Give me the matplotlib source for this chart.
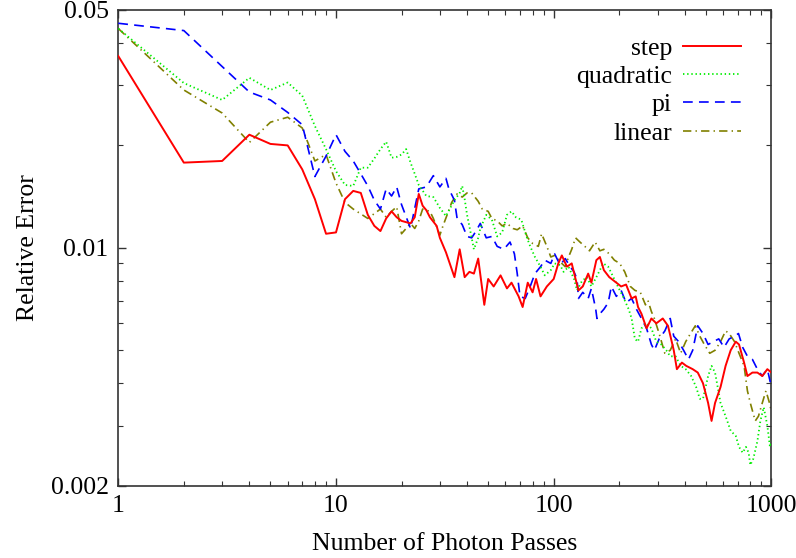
import matplotlib
matplotlib.use("Agg")
import matplotlib.pyplot as plt
import matplotlib.ticker as ticker

plt.rcParams["font.family"] = ["Liberation Serif", "DejaVu Serif"]
plt.rcParams["lines.scale_dashes"] = False

# Relative error vs number of photon passes
step_x = [1, 2, 3, 4, 5, 6, 7, 8, 9, 10,
          11, 12, 13, 14, 15, 16, 17, 18, 19, 20,
          22, 23, 24, 25, 26, 27, 29, 30, 32, 35,
          37, 39, 41, 43, 45, 48, 50, 53, 57, 61,
          64, 69, 72, 76, 80, 83, 87, 93, 100, 105,
          109, 115, 121, 126, 130, 136, 144, 149, 157, 163,
          170, 180, 194, 204, 215, 228, 238, 244, 253, 267,
          281, 296, 317, 335, 356, 368, 388, 406, 435, 459,
          485, 512, 531, 551, 584, 616, 650, 686, 710, 749,
          776, 818, 862, 908, 958, 1000]
step_y = [.0366, .0178, .0180, .0215, .0202, .0200, .0170, .0139, .0110, .0111,
          .0139, .0147, .0145, .0125, .0116, .0112, .0122, .0128, .0123, .0120,
          .0118, .0123, .0144, .0133, .0129, .0123, .0116, .0107, .0097, .0082,
          .0099, .0082, .0085, .0084, .0093, .0068, .0081, .0077, .0083, .0076,
          .0079, .0072, .0067, .0079, .0074, .0081, .0072, .0077, .0081, .0090,
          .0095, .0088, .0090, .0081, .0075, .0077, .0084, .0079, .0092, .0094,
          .0086, .0082, .0079, .0077, .0078, .0071, .0072, .0067, .0064, .0058,
          .0062, .0060, .0062, .0059, .0050, .0044, .0046, .0045, .0044, .0043,
          .0040, .0035, .0031, .0035, .0039, .0045, .0050, .0053, .0052, .0046,
          .0042, .0043, .0043, .0042, .0044, .0043]

quad_x = [1, 2, 3, 4, 5, 6, 7, 8, 9, 10,
          11, 12, 13, 14, 15, 16, 17, 18, 19, 20,
          21, 22, 23, 24, 26, 28, 30, 32, 35, 37,
          38, 39, 40, 42, 43, 45, 46, 49, 52, 55,
          58, 61, 64, 67, 71, 75, 78, 82, 87, 91,
          97, 101, 107, 111, 117, 124, 128, 135, 142, 149,
          157, 163, 169, 178, 188, 197, 208, 221, 228, 236,
          244, 253, 267, 281, 296, 312, 329, 343, 363, 383,
          404, 428, 451, 469, 485, 512, 531, 551, 584, 616,
          650, 686, 710, 738, 764, 786, 800, 826, 862, 890,
          922, 958, 985, 1000]
quad_y = [.0441, .0305, .0272, .0316, .0291, .0306, .0280, .0228, .0195, .0168,
          .0153, .0152, .0172, .0172, .0183, .0195, .0205, .0184, .0185, .0188,
          .0195, .0178, .0165, .0153, .0142, .0141, .0131, .0124, .0138, .0145,
          .0152, .0139, .0125, .0107, .0099, .0107, .0114, .0125, .0121, .0108,
          .0111, .0125, .0128, .0123, .0121, .0108, .0101, .0094, .0088, .0083,
          .0086, .0090, .0089, .0085, .0088, .0081, .0075, .0080, .0082, .0077,
          .0082, .0086, .0090, .0088, .0082, .0077, .0072, .0066, .0062, .0054,
          .0053, .0058, .0060, .0058, .0053, .0052, .0050, .0048, .0048, .0045,
          .0044, .0042, .0039, .0036, .0036, .0042, .0045, .0043, .0035, .0032,
          .0029, .0028, .0026, .0025, .0026, .0025, .0023, .0024, .0027, .0031,
          .0034, .0030, .0026, .0027]

pi_x = [1, 2, 3, 4, 5, 6, 7, 8, 9, 10,
        11, 12, 13, 14, 15, 16, 17, 18, 19, 20,
        22, 24, 26, 28, 30, 32, 33, 35, 36, 38,
        40, 42, 44, 46, 49, 52, 55, 59, 63, 66,
        68, 70, 74, 78, 82, 87, 91, 97, 101, 107,
        113, 119, 124, 128, 130, 136, 144, 149, 156, 158,
        163, 170, 178, 184, 194, 204, 215, 228, 240, 253,
        267, 281, 290, 305, 324, 343, 356, 375, 395, 416,
        435, 459, 485, 512, 541, 573, 606, 640, 677, 706,
        738, 776, 818, 862, 908, 958, 1000]
pi_y = [.0457, .0435, .0341, .0287, .0272, .0250, .0230, .0162, .0186, .0215,
        .0192, .0180, .0165, .0152, .0138, .0130, .0149, .0142, .0151, .0134,
        .0114, .0149, .0151, .0163, .0151, .0160, .0149, .0138, .0122, .0117,
        .0108, .0107, .0112, .0118, .0107, .0108, .0101, .0099, .0104, .0096,
        .0084, .0072, .0071, .0077, .0084, .0088, .0092, .0090, .0096, .0089,
        .0093, .0088, .0085, .0081, .0071, .0074, .0071, .0076, .0066, .0062,
        .0064, .0066, .0069, .0077, .0072, .0075, .0069, .0071, .0066, .0062,
        .0058, .0052, .0050, .0054, .0057, .0062, .0055, .0053, .0050, .0047,
        .0050, .0059, .0056, .0052, .0053, .0054, .0051, .0054, .0055, .0056,
        .0051, .0048, .0047, .0044, .0042, .0044, .0039]

lin_x = [1, 2, 3, 4, 5, 6, 7, 8, 9, 10,
         11, 12, 14, 16, 17, 18, 19, 20, 22, 23,
         24, 25, 27, 28, 30, 31, 33, 34, 36, 38,
         40, 42, 45, 47, 50, 52, 55, 58, 61, 65,
         68, 72, 76, 80, 85, 88, 93, 97, 101, 107,
         113, 117, 121, 126, 132, 139, 146, 155, 163, 170,
         180, 190, 201, 212, 225, 236, 250, 264, 271, 281,
         290, 305, 324, 343, 363, 383, 404, 425, 447, 469,
         492, 521, 551, 584, 616, 640, 677, 710, 749, 776,
         800, 843, 872, 908, 944, 980, 1000]
lin_y = [.0441, .0291, .0249, .0204, .0234, .0242, .0225, .0180, .0188, .0155,
         .0136, .0130, .0122, .0130, .0123, .0128, .0132, .0110, .0118, .0114,
         .0120, .0130, .0128, .0122, .0109, .0116, .0129, .0136, .0144, .0141,
         .0145, .0145, .0137, .0130, .0128, .0122, .0120, .0116, .0118, .0114,
         .0113, .0116, .0107, .0103, .0101, .0110, .0101, .0094, .0095, .0091,
         .0088, .0094, .0099, .0107, .0104, .0101, .0098, .0104, .0098, .0099,
         .0096, .0092, .0090, .0085, .0077, .0075, .0074, .0068, .0070, .0065,
         .0062, .0056, .0049, .0050, .0054, .0049, .0053, .0056, .0059, .0055,
         .0052, .0049, .0050, .0053, .0057, .0056, .0053, .0049, .0045, .0038,
         .0035, .0031, .0032, .0035, .0038, .0035, .0033]

x_ticks = [1, 10, 100, 1000]
x_tick_labels = ["1", "10", "100", "1000"]
y_ticks = [0.002, 0.01, 0.05]
y_tick_labels = ["0.002", "0.01", "0.05"]

fs = 18.5

fig = plt.figure(figsize=(7.96, 5.58), dpi=100)
ax = fig.add_axes([0.1486, 0.1296, 0.8205, 0.8525])

ax.plot(step_x, step_y, color="#ff0000", lw=1.4, label="step", zorder=5)
ax.plot(quad_x, quad_y, color="#00ee00", lw=1.3, ls=(0, (1.0, 2.0)),
        label="quadratic", zorder=4)
ax.plot(pi_x, pi_y, color="#0000ff", lw=1.2, ls=(0, (7, 4.5)),
        label="pi", zorder=3)
ax.plot(lin_x, lin_y, color="#808000", lw=1.2, ls=(0, (6, 3, 1, 3)),
        label="linear", zorder=2)

ax.set_xscale("log")
ax.set_yscale("log")
ax.set_xlim(1, 1000)
ax.set_ylim(0.002, 0.05)

ax.xaxis.set_major_locator(ticker.FixedLocator(x_ticks))
ax.xaxis.set_major_formatter(ticker.FixedFormatter(x_tick_labels))
ax.xaxis.set_minor_locator(ticker.LogLocator(base=10, subs=range(2, 10)))
ax.xaxis.set_minor_formatter(ticker.NullFormatter())
ax.yaxis.set_major_locator(ticker.FixedLocator(y_ticks))
ax.yaxis.set_major_formatter(ticker.FixedFormatter(y_tick_labels))
ax.yaxis.set_minor_locator(ticker.FixedLocator(
    [0.003, 0.004, 0.005, 0.006, 0.007, 0.008, 0.009, 0.02, 0.03, 0.04]))
ax.yaxis.set_minor_formatter(ticker.NullFormatter())

ax.tick_params(which="both", direction="in", top=True, right=True,
               labelsize=fs, color="#333333")
ax.tick_params(which="major", length=6, width=1.0, pad=7)
ax.tick_params(which="minor", length=3.5, width=0.8)
for s in ax.spines.values():
    s.set_linewidth(1.2)
    s.set_color("#333333")

ax.set_xlabel("Number of Photon Passes", fontsize=fs, labelpad=11)
ax.set_ylabel("Relative Error", fontsize=fs, labelpad=8)

ax.legend(loc="upper right", bbox_to_anchor=(0.9535, 0.944), frameon=False,
          markerfirst=False, fontsize=fs, handlelength=2.26,
          handletextpad=0.43, labelspacing=0.21, borderpad=0, borderaxespad=0)

fig.savefig("out.png", dpi=100)
